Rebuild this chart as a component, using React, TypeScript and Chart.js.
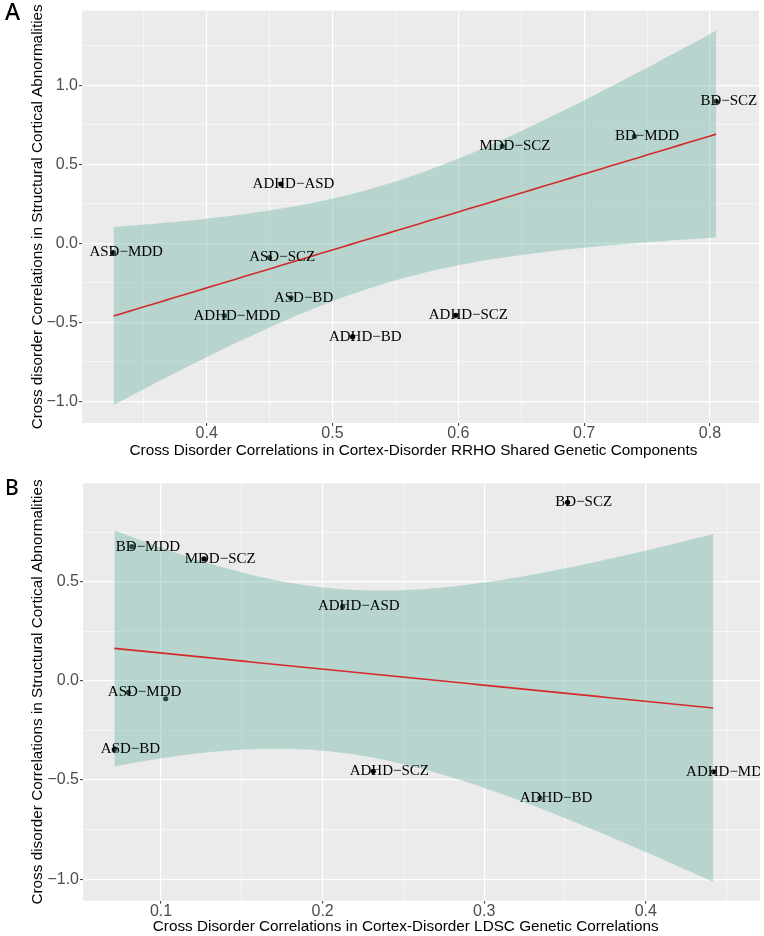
import React, { useEffect, useRef } from 'react';
import { Chart, registerables } from 'chart.js';

Chart.register(...registerables);

// ---------- data ----------
const pairs = ['BD−SCZ', 'BD−MDD', 'MDD−SCZ', 'ADHD−ASD', 'ASD−MDD', 'ASD−SCZ', 'ASD−BD', 'ADHD−MDD', 'ADHD−BD', 'ADHD−SCZ'];
// y: cross-disorder correlations in structural cortical abnormalities
const structuralCorr = [0.9, 0.677, 0.615, 0.375, -0.058, -0.09, -0.346, -0.458, -0.591, -0.456];
// x panel A: RRHO shared genetic components
const rrhoCorr = [0.805, 0.74, 0.635, 0.459, 0.326, 0.45, 0.467, 0.414, 0.516, 0.598];
// x panel B: LDSC genetic correlations
const ldscCorr = [0.3516, 0.0819, 0.1266, 0.2124, 0.0798, 0.1029, 0.0711, 0.4418, 0.3345, 0.2313];
// labels dropped in panel B (overlap check)
const hiddenLabelsB = ['ASD−SCZ'];

const xMajorA = [0.4, 0.5, 0.6, 0.7, 0.8];
const xMinorA = [0.35, 0.45, 0.55, 0.65, 0.75];
const yMajorA = [-1, -0.5, 0, 0.5, 1];
const yMinorA = [-0.75, -0.25, 0.25, 0.75, 1.25];
const xMajorB = [0.1, 0.2, 0.3, 0.4];
const xMinorB = [0.15, 0.25, 0.35, 0.45];
const yMajorB = [-1, -0.5, 0, 0.5];
const yMinorB = [-0.75, -0.25, 0.25, 0.75];

const yTitle = 'Cross disorder Correlations in Structural Cortical Abnormalities';
const xTitleA = 'Cross Disorder Correlations in Cortex-Disorder RRHO Shared Genetic Components';
const xTitleB = 'Cross Disorder Correlations in Cortex-Disorder LDSC Genetic Correlations';

const LABEL_NUDGE_X = 0.01;
const T_975_DF8 = 2.306004; // Student t quantile for a 95% band with n-2 = 8 df
const SMOOTH_N = 80;

// ---------- linear model fit with 95% confidence band (as geom_smooth(method = "lm")) ----------
function lmFit(xs: number[], ys: number[]) {
  const n = xs.length;
  const mx = xs.reduce((a, b) => a + b, 0) / n;
  const my = ys.reduce((a, b) => a + b, 0) / n;
  let sxx = 0;
  let sxy = 0;
  for (let i = 0; i < n; i++) {
    sxx += (xs[i] - mx) ** 2;
    sxy += (xs[i] - mx) * (ys[i] - my);
  }
  const b = sxy / sxx;
  const a = my - b * mx;
  let ssr = 0;
  for (let i = 0; i < n; i++) ssr += (ys[i] - (a + b * xs[i])) ** 2;
  const s2 = ssr / (n - 2);
  const lo = Math.min(...xs);
  const hi = Math.max(...xs);
  const line: { x: number; y: number }[] = [];
  const upper: { x: number; y: number }[] = [];
  const lower: { x: number; y: number }[] = [];
  for (let k = 0; k < SMOOTH_N; k++) {
    const x = lo + ((hi - lo) * k) / (SMOOTH_N - 1);
    const yh = a + b * x;
    const se = Math.sqrt(s2 * (1 / n + (x - mx) ** 2 / sxx));
    line.push({ x, y: yh });
    upper.push({ x, y: yh + T_975_DF8 * se });
    lower.push({ x, y: yh - T_975_DF8 * se });
  }
  return { line, upper, lower };
}

const SANS = '"Liberation Sans", Arial, sans-serif';
const SERIF = '"Liberation Serif", "Times New Roman", serif';

function fmt(v: number) {
  return v.toFixed(1).replace('-', '\u2212');
}
const has = (arr: number[], v: number) => arr.some((m) => Math.abs(m - v) < 1e-9);

type PanelProps = {
  letter: string;
  letterSize: number;
  letterBaseline: number;
  xs: number[];
  ys: number[];
  hidden: string[];
  xMin: number;
  xMax: number;
  yMin: number;
  yMax: number;
  xMajor: number[];
  xMinor: number[];
  yMajor: number[];
  yMinor: number[];
  xTitle: string;
  xTitleCenter: number;
  height: number;
  padTop: number;
  padRight: number;
  yAxisWidth: number;
  xAxisHeight: number;
};

function Panel(p: PanelProps) {
  const ref = useRef<HTMLCanvasElement | null>(null);
  useEffect(() => {
    const canvas = ref.current;
    if (!canvas) return;
    const fit = lmFit(p.xs, p.ys);
    const pts = p.xs.map((x, i) => ({ x, y: p.ys[i] }));

    const bgPlugin = {
      id: 'panelBg',
      beforeDraw(chart: any) {
        const { ctx, chartArea } = chart;
        ctx.save();
        ctx.fillStyle = '#EBEBEB';
        ctx.fillRect(chartArea.left, chartArea.top, chartArea.right - chartArea.left, chartArea.bottom - chartArea.top);
        ctx.restore();
      },
    };
    const labelPlugin = {
      id: 'pairLabels',
      afterDatasetsDraw(chart: any) {
        const { ctx, chartArea, scales } = chart;
        ctx.save();
        ctx.beginPath();
        ctx.rect(chartArea.left, chartArea.top, chartArea.right - chartArea.left, chartArea.bottom - chartArea.top);
        ctx.clip();
        ctx.font = `15px ${SERIF}`;
        ctx.fillStyle = '#000';
        ctx.textAlign = 'center';
        ctx.textBaseline = 'middle';
        pairs.forEach((lab, i) => {
          if (p.hidden.includes(lab)) return;
          const x = scales.x.getPixelForValue(p.xs[i] + LABEL_NUDGE_X);
          const y = scales.y.getPixelForValue(p.ys[i]);
          ctx.fillText(lab, x, y);
        });
        ctx.restore();
        // x-axis title
        ctx.save();
        ctx.font = `15.3px ${SANS}`;
        ctx.fillStyle = '#000';
        ctx.textAlign = 'center';
        ctx.textBaseline = 'middle';
        ctx.fillText(p.xTitle, p.xTitleCenter, chart.height - 9.7);
        ctx.restore();
        // panel letter
        ctx.save();
        ctx.font = `500 ${p.letterSize}px "Noto Sans", "Open Sans", sans-serif`;
        ctx.fillStyle = '#000';
        ctx.textAlign = 'left';
        ctx.textBaseline = 'alphabetic';
        ctx.fillText(p.letter, 5, p.letterBaseline);
        ctx.restore();
      },
    };

    const xTicks = [...p.xMajor, ...p.xMinor].sort((a, b) => a - b);
    const yTicks = [...p.yMajor, ...p.yMinor].sort((a, b) => a - b);

    const chart = new Chart(canvas, {
      type: 'line',
      data: {
        datasets: [
          {
            label: 'fit',
            data: fit.line,
            borderColor: '#D42A2A',
            borderWidth: 1.6,
            pointRadius: 0,
            fill: false,
            order: 1,
          },
          {
            label: 'upper',
            data: fit.upper,
            borderColor: 'rgba(0,0,0,0)',
            borderWidth: 0,
            pointRadius: 0,
            fill: '+1',
            backgroundColor: 'rgba(105,179,162,0.4)',
            order: 2,
          },
          {
            label: 'lower',
            data: fit.lower,
            borderColor: 'rgba(0,0,0,0)',
            borderWidth: 0,
            pointRadius: 0,
            fill: false,
            order: 2,
          },
          {
            label: 'points',
            data: pts,
            showLine: false,
            pointRadius: 2.6,
            pointBackgroundColor: '#000',
            pointBorderWidth: 0,
            order: 3,
          },
        ],
      } as any,
      options: {
        animation: false,
        responsive: false,
        devicePixelRatio: 1,
        layout: { padding: { top: p.padTop, right: p.padRight, left: 0, bottom: 0 } },
        plugins: { legend: { display: false }, tooltip: { enabled: false } },
        events: [],
        scales: {
          x: {
            type: 'linear',
            min: p.xMin,
            max: p.xMax,
            afterBuildTicks: (s: any) => {
              s.ticks = xTicks.map((v) => ({ value: v }));
            },
            afterFit: (s: any) => {
              s.height = p.xAxisHeight;
            },
            ticks: {
              autoSkip: false,
              maxRotation: 0,
              padding: 0,
              color: '#4D4D4D',
              font: { family: SANS, size: 16, lineHeight: 1 },
              callback: (v: any) => (has(p.xMajor, Number(v)) ? fmt(Number(v)) : ''),
            },
            grid: {
              color: '#FFFFFF',
              lineWidth: (c: any) => (c.tick && has(p.xMajor, c.tick.value) ? 1.2 : 0.55),
              tickColor: (c: any) => (c.tick && has(p.xMajor, c.tick.value) ? '#333333' : 'rgba(0,0,0,0)'),
              tickLength: 3,
              tickWidth: 1,
            },
            border: { display: false },
            title: { display: false },
          },
          y: {
            type: 'linear',
            min: p.yMin,
            max: p.yMax,
            afterBuildTicks: (s: any) => {
              s.ticks = yTicks.map((v) => ({ value: v }));
            },
            afterFit: (s: any) => {
              s.width = p.yAxisWidth;
            },
            ticks: {
              autoSkip: false,
              padding: 1,
              color: '#4D4D4D',
              font: { family: SANS, size: 16 },
              callback: (v: any) => (has(p.yMajor, Number(v)) ? fmt(Number(v)) : ''),
            },
            grid: {
              color: '#FFFFFF',
              lineWidth: (c: any) => (c.tick && has(p.yMajor, c.tick.value) ? 1.2 : 0.55),
              tickColor: (c: any) => (c.tick && has(p.yMajor, c.tick.value) ? '#333333' : 'rgba(0,0,0,0)'),
              tickLength: 3,
              tickWidth: 1,
            },
            border: { display: false },
            title: {
              display: true,
              text: yTitle,
              color: '#000',
              font: { family: SANS, size: 15.3 },
              padding: { top: 29, bottom: 0 },
            },
          },
        },
      } as any,
      plugins: [bgPlugin, labelPlugin],
    });
    return () => chart.destroy();
  }, []);
  return <canvas ref={ref} width={764} height={p.height} style={{ display: 'block', width: 764, height: p.height }} />;
}

export default function App() {
  return (
    <div style={{ position: 'absolute', left: 0, top: 0, width: 764, height: 936, background: '#fff' }}>
      <Panel
        letter="A"
        letterSize={23}
        letterBaseline={20}
        xs={rrhoCorr}
        ys={structuralCorr}
        hidden={[]}
        xMin={0.3009}
        xMax={0.839}
        yMin={-1.138}
        yMax={1.474}
        xMajor={xMajorA}
        xMinor={xMinorA}
        yMajor={yMajorA}
        yMinor={yMinorA}
        xTitle={xTitleA}
        xTitleCenter={413.5}
        height={460}
        padTop={6}
        padRight={5}
        yAxisWidth={82}
        xAxisHeight={37}
      />
      <Panel
        letter="B"
        letterSize={21}
        letterBaseline={35}
        xs={ldscCorr}
        ys={structuralCorr}
        hidden={hiddenLabelsB}
        xMin={0.0517}
        xMax={0.4707}
        yMin={-1.108}
        yMax={0.996}
        xMajor={xMajorB}
        xMinor={xMinorB}
        yMajor={yMajorB}
        yMinor={yMinorB}
        xTitle={xTitleB}
        xTitleCenter={405.7}
        height={476}
        padTop={23.3}
        padRight={4}
        yAxisWidth={83}
        xAxisHeight={35.3}
      />
    </div>
  );
}
